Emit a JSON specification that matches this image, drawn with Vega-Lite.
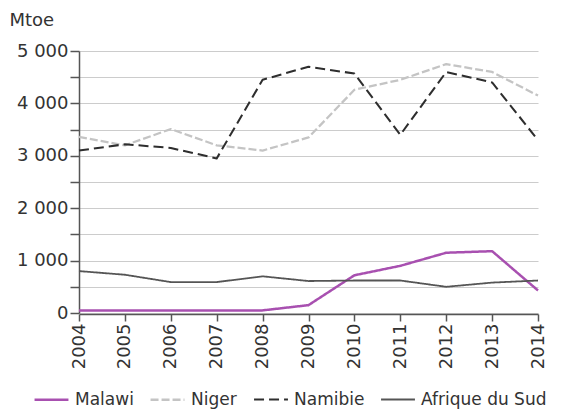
{
  "$schema": "https://vega.github.io/schema/vega-lite/v6.json",
  "width": 459,
  "height": 262,
  "autosize": {"type": "none"},
  "padding": {"left": 79, "top": 51, "right": 24, "bottom": 100},
  "background": "white",
  "config": {
    "font": "DejaVu Sans",
    "view": {"stroke": null},
    "axis": {"labelFont": "DejaVu Sans", "titleFont": "DejaVu Sans"},
    "legend": {"labelFont": "DejaVu Sans"}
  },
  "data": {
    "values": [
      {"year": 2004, "country": "Malawi", "value": 50},
      {"year": 2005, "country": "Malawi", "value": 50},
      {"year": 2006, "country": "Malawi", "value": 50},
      {"year": 2007, "country": "Malawi", "value": 50},
      {"year": 2008, "country": "Malawi", "value": 50},
      {"year": 2009, "country": "Malawi", "value": 150},
      {"year": 2010, "country": "Malawi", "value": 720},
      {"year": 2011, "country": "Malawi", "value": 900},
      {"year": 2012, "country": "Malawi", "value": 1150},
      {"year": 2013, "country": "Malawi", "value": 1180},
      {"year": 2014, "country": "Malawi", "value": 430},
      {"year": 2004, "country": "Niger", "value": 3360},
      {"year": 2005, "country": "Niger", "value": 3200},
      {"year": 2006, "country": "Niger", "value": 3510},
      {"year": 2007, "country": "Niger", "value": 3200},
      {"year": 2008, "country": "Niger", "value": 3100},
      {"year": 2009, "country": "Niger", "value": 3350},
      {"year": 2010, "country": "Niger", "value": 4260},
      {"year": 2011, "country": "Niger", "value": 4450},
      {"year": 2012, "country": "Niger", "value": 4750},
      {"year": 2013, "country": "Niger", "value": 4600},
      {"year": 2014, "country": "Niger", "value": 4150},
      {"year": 2004, "country": "Namibie", "value": 3100},
      {"year": 2005, "country": "Namibie", "value": 3220},
      {"year": 2006, "country": "Namibie", "value": 3150},
      {"year": 2007, "country": "Namibie", "value": 2950},
      {"year": 2008, "country": "Namibie", "value": 4450},
      {"year": 2009, "country": "Namibie", "value": 4700},
      {"year": 2010, "country": "Namibie", "value": 4570},
      {"year": 2011, "country": "Namibie", "value": 3400},
      {"year": 2012, "country": "Namibie", "value": 4600},
      {"year": 2013, "country": "Namibie", "value": 4400},
      {"year": 2014, "country": "Namibie", "value": 3300},
      {"year": 2004, "country": "Afrique du Sud", "value": 800},
      {"year": 2005, "country": "Afrique du Sud", "value": 730},
      {"year": 2006, "country": "Afrique du Sud", "value": 590},
      {"year": 2007, "country": "Afrique du Sud", "value": 590},
      {"year": 2008, "country": "Afrique du Sud", "value": 700},
      {"year": 2009, "country": "Afrique du Sud", "value": 610},
      {"year": 2010, "country": "Afrique du Sud", "value": 620},
      {"year": 2011, "country": "Afrique du Sud", "value": 620},
      {"year": 2012, "country": "Afrique du Sud", "value": 500},
      {"year": 2013, "country": "Afrique du Sud", "value": 580},
      {"year": 2014, "country": "Afrique du Sud", "value": 620}
    ]
  },
  "mark": {"type": "line", "strokeCap": "butt", "strokeJoin": "round"},
  "encoding": {
    "x": {
      "field": "year",
      "type": "quantitative",
      "scale": {"domain": [2004, 2014], "nice": false, "zero": false},
      "axis": {
        "values": [2004, 2005, 2006, 2007, 2008, 2009, 2010, 2011, 2012, 2013, 2014],
        "format": "d",
        "labelAngle": 270,
        "labelAlign": "right",
        "labelBaseline": "middle",
        "labelFontSize": 18,
        "labelColor": "#333333",
        "labelPadding": 2,
        "tickColor": "#555555",
        "tickSize": 7,
        "tickWidth": 1.5,
        "domainColor": "#555555",
        "domainWidth": 1.5,
        "grid": false,
        "title": null,
        "offset": 1
      }
    },
    "y": {
      "field": "value",
      "type": "quantitative",
      "scale": {"domain": [0, 5000], "nice": false},
      "axis": {
        "values": [0, 500, 1000, 1500, 2000, 2500, 3000, 3500, 4000, 4500, 5000],
        "labelExpr": "datum.value % 1000 == 0 ? replace(format(datum.value, ','), ',', ' ') : ''",
        "labelFontSize": 18,
        "labelColor": "#333333",
        "labelPadding": 2,
        "tickColor": "#555555",
        "tickSize": 9,
        "tickWidth": 1.5,
        "domainColor": "#555555",
        "domainWidth": 1.5,
        "gridColor": "#cccccc",
        "gridWidth": 1.2,
        "title": "Mtoe",
        "titleAngle": 0,
        "titleAlign": "left",
        "titleBaseline": "alphabetic",
        "titleX": -70,
        "titleY": -26,
        "titleFontSize": 18,
        "titleFontWeight": "normal",
        "titleColor": "#333333"
      }
    },
    "color": {
      "field": "country",
      "type": "nominal",
      "scale": {
        "domain": ["Malawi", "Niger", "Namibie", "Afrique du Sud"],
        "range": ["#a850b0", "#c4c4c4", "#2e2e2e", "#555555"]
      },
      "legend": {
        "title": null,
        "orient": "none",
        "direction": "horizontal",
        "legendX": -46,
        "legendY": 330,
        "symbolType": "stroke",
        "symbolSize": 1150,
        "symbolStrokeWidth": 2.5,
        "labelFontSize": 17,
        "labelColor": "#333333",
        "columnPadding": 12,
        "labelOffset": 5
      }
    },
    "strokeDash": {
      "field": "country",
      "type": "nominal",
      "scale": {
        "domain": ["Malawi", "Niger", "Namibie", "Afrique du Sud"],
        "range": [[1, 0], [8, 3], [10, 5], [1, 0]]
      },
      "legend": {
        "title": null,
        "orient": "none",
        "direction": "horizontal",
        "legendX": -46,
        "legendY": 330,
        "symbolType": "stroke",
        "symbolSize": 1150,
        "symbolStrokeWidth": 2.5,
        "labelFontSize": 17,
        "labelColor": "#333333",
        "columnPadding": 12,
        "labelOffset": 5
      }
    },
    "strokeWidth": {
      "field": "country",
      "type": "nominal",
      "scale": {
        "domain": ["Malawi", "Niger", "Namibie", "Afrique du Sud"],
        "range": [2.5, 1.8, 2.5, 1.8]
      },
      "legend": null
    }
  }
}
